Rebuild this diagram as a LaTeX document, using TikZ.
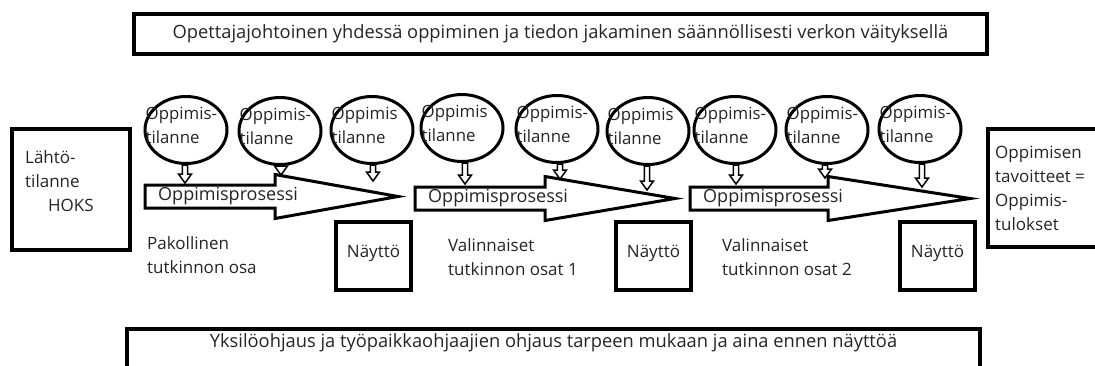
\documentclass[tikz,border=0pt]{standalone}
\usepackage{fontspec}
\setmainfont{Open Sans}
\usepackage{tikz}
\usetikzlibrary{calc,positioning,shapes.geometric}
\definecolor{lineBlack}{RGB}{0,0,0}
\definecolor{txtGray}{RGB}{36,36,36}
\tikzset{
  plaintxt/.style={text=txtGray, inner sep=0pt, align=left, font=\fontsize{17}{24}\selectfont},
  wideframe/.style={draw=lineBlack, line width=4.2pt, minimum width=853, text=txtGray, font=\fontsize{18.3}{22}\selectfont},
  sidebox/.style={draw=lineBlack, line width=3.5pt, anchor=north west},
  showbox/.style={draw=lineBlack, line width=3.2pt, minimum width=75, minimum height=68, text=txtGray, text depth=9pt, font=\fontsize{17}{24}\selectfont},
  oval/.style={draw=lineBlack, line width=3pt, ellipse, minimum width=82, minimum height=67, inner sep=0pt},
  ovaltxt/.style={text=txtGray, inner sep=0pt, align=left, anchor=west, font=\fontsize{16.8}{24}\selectfont},
  bigarrow/.style={draw=lineBlack, line width=3pt, line join=miter},
  smallarrow/.style={draw=lineBlack, line width=1.5pt, fill=white}
}
\newcommand{\hollowdown}[2]{%
  \draw[smallarrow] let \p1=(#1), \p2=(#2) in
    (\x2-2.6pt,\y1) -- (\x2-2.6pt,\y2+9pt) -- (\x2-6.5pt,\y2+9pt) -- (\x2,\y2)
    -- (\x2+6.5pt,\y2+9pt) -- (\x2+2.6pt,\y2+9pt) -- (\x2+2.6pt,\y1) -- cycle;}

\begin{document}
\begin{tikzpicture}[x=1pt, y=-1pt]
\useasboundingbox (0,0) rectangle (1095,365);

\node[wideframe, minimum height=40] (lead) at (560.5,34)
  {Opettajajohtoinen yhdessä oppiminen ja tiedon jakaminen säännöllisesti verkon väityksellä};
\node[wideframe, anchor=north, minimum height=46, text height=12pt, text depth=21pt] (guide) at (553.5,327)
  {Yksilöohjaus ja työpaikkaohjaajien ohjaus tarpeen mukaan ja aina ennen näyttöä};

\node[sidebox, minimum width=118, minimum height=121] (start) at (10,127) {};
\node[plaintxt, anchor=north west] (starttxt) at ([xshift=15,yshift=-23]start.north west)
  {Lähtö-\\tilanne\\\hspace*{23pt}HOKS};
\node[sidebox, minimum width=115, minimum height=118] (goal) at (986,127) {};
\node[plaintxt, anchor=north west] (goaltxt) at ([xshift=9,yshift=-19]goal.north west)
  {Oppimisen\\tavoitteet =\\Oppimis-\\tulokset};

\foreach \k/\a/\b/\c/\yt in {1/145/275/398/185, 2/415/545/675/187, 3/690/828/970/187}
{
    \draw[bigarrow] (\a,\yt) -- (\b,\yt) -- (\b,\yt-10.5) -- (\c,\yt+11.5)
      -- (\b,\yt+33.5) -- (\b,\yt+23) -- (\a,\yt+23) -- cycle;
    \node[plaintxt, anchor=west, font=\fontsize{18}{24}\selectfont] (proc\k) at (\a+13,\yt+11.5) {Oppimisprosessi};
}

\foreach \k/\x in {1/373.5, 2/653.5, 3/937.5}
{
    \node[showbox] (demo\k) at (\x,256) {Näyttö};
}

\node[plaintxt, anchor=west] (part1) at (147,255) {Pakollinen\\tutkinnon osa};
\node[plaintxt, anchor=west] (part2) at (448,257) {Valinnaiset\\tutkinnon osat 1};
\node[plaintxt, anchor=west] (part3) at (722,257) {Valinnaiset\\tutkinnon osat 2};

\foreach \k/\cx/\cy/\tx/\tip/\word in {1/186/130/185/183/Oppimis-, 2/280/131/281/175/Oppimis-,
  3/372/130/373/181/Oppimis, 4/462/128/465/184/Oppimis, 5/557/129/560/179/Oppimis-,
  6/648/131/647/190/Oppimis, 7/735/130/736/184/Oppimis-, 8/827/130/825/178/Oppimis-,
  9/920/129/922/187/Oppimis-}
{
    \node[oval] (sit\k) at (\cx,\cy) {};
    \node[ovaltxt] (sittxt\k) at ([xshift=2,yshift=5]sit\k.west) {\word\\tilanne};
    \coordinate (tip\k) at (\tx,\tip);
    \hollowdown{sit\k.south}{tip\k}
}
\end{tikzpicture}
\end{document}
